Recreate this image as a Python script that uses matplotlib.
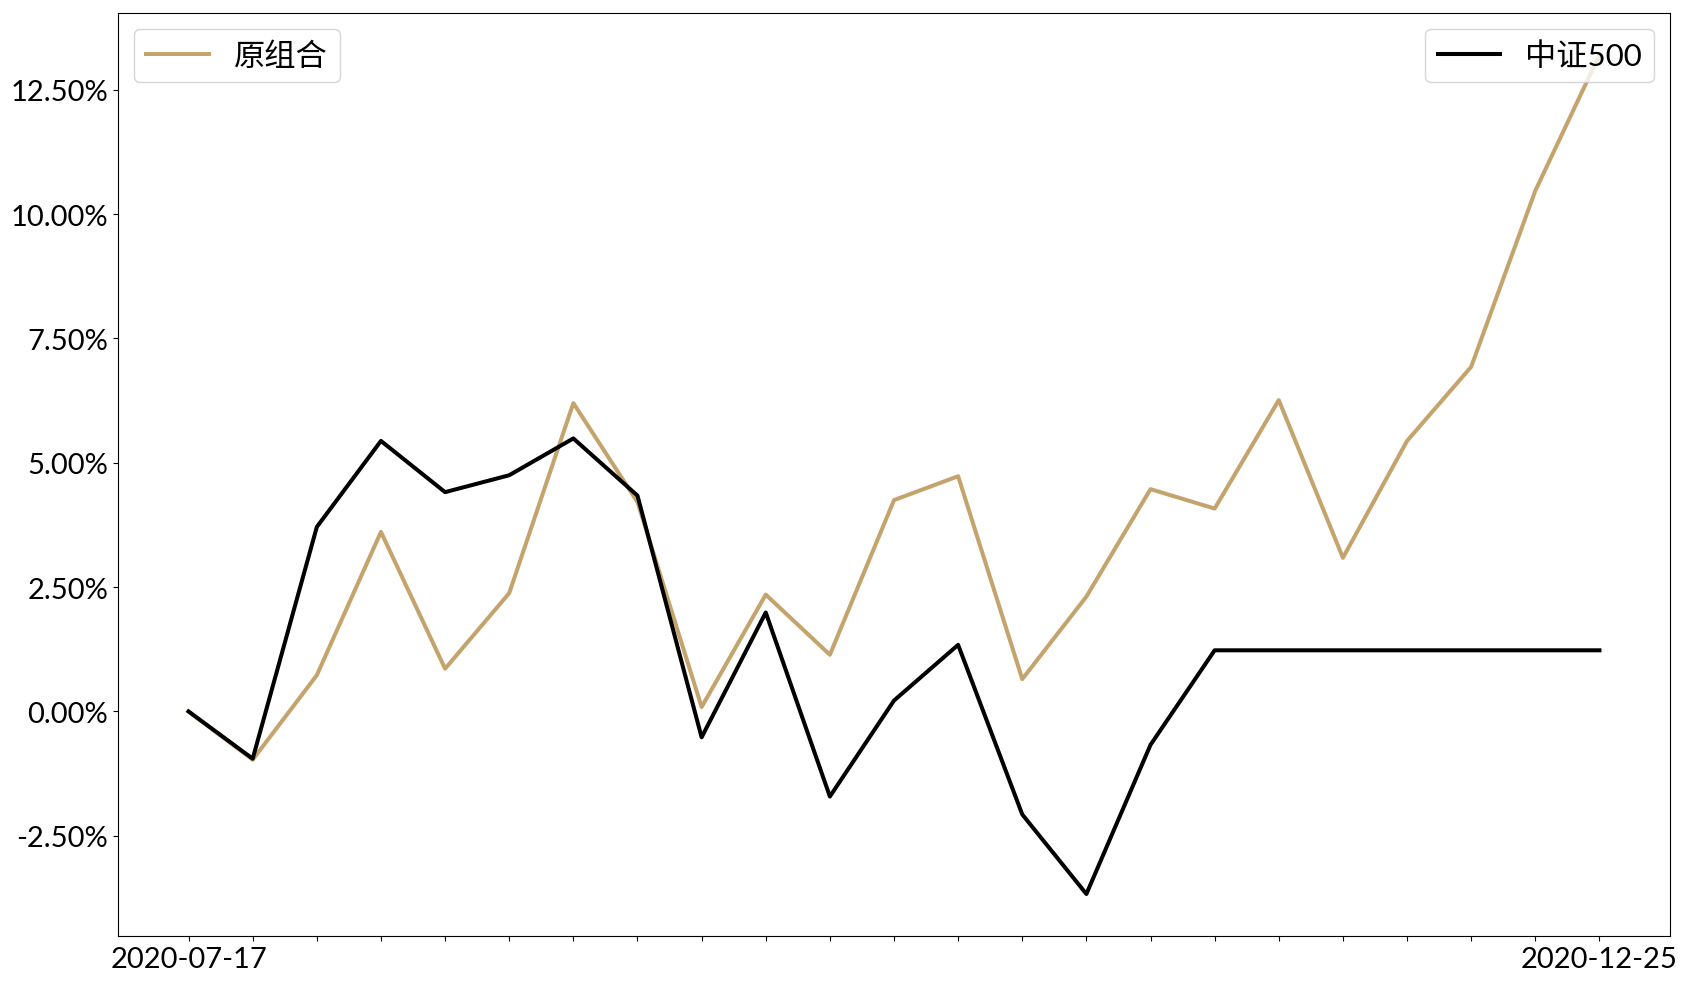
import matplotlib
matplotlib.use("Agg")
import matplotlib.pyplot as plt
from matplotlib.ticker import FuncFormatter

plt.rcParams['font.family'] = ['Lato', 'Noto Sans CJK SC', 'DejaVu Sans']

# weekly dates (2020-10-02 holiday week missing)
dates = ["2020-07-17", "2020-07-24", "2020-07-31", "2020-08-07", "2020-08-14",
         "2020-08-21", "2020-08-28", "2020-09-04", "2020-09-11", "2020-09-18",
         "2020-09-25", "2020-10-09", "2020-10-16", "2020-10-23", "2020-10-30",
         "2020-11-06", "2020-11-13", "2020-11-20", "2020-11-27", "2020-12-04",
         "2020-12-11", "2020-12-18", "2020-12-25"]

# cumulative returns, %
portfolio = [0.00, -0.97, 0.73, 3.61, 0.86, 2.38, 6.20, 4.21, 0.09, 2.35,
             1.14, 4.25, 4.73, 0.65, 2.31, 4.47, 4.08, 6.26, 3.09, 5.44,
             6.93, 10.47, 13.20]
csi500 = [0.00, -0.95, 3.71, 5.44, 4.41, 4.75, 5.49, 4.34, -0.52, 1.99,
          -1.71, 0.22, 1.34, -2.07, -3.67, -0.67, 1.23, 1.23, 1.23, 1.23,
          1.23, 1.23, 1.23]

fig, ax = plt.subplots(figsize=(16.86, 9.87), dpi=100)
fig.subplots_adjust(left=0.070, right=0.9905, top=0.9858, bottom=0.0507)

x = list(range(len(dates)))
l1, = ax.plot(x, portfolio, color="#c4a46c", lw=2.9, label="原组合")
l2, = ax.plot(x, csi500, color="black", lw=2.9, label="中证500")

ax.set_xticks(x)
ax.set_xticklabels([d if i in (0, len(dates) - 1) else "" for i, d in enumerate(dates)])
ax.yaxis.set_major_formatter(FuncFormatter(lambda v, p: f"{v:.2f}%"))
ax.set_yticks([-2.5, 0, 2.5, 5, 7.5, 10, 12.5])
ax.tick_params(labelsize=21)

leg1 = ax.legend(handles=[l1], loc="upper left", fontsize=22.5)
ax.add_artist(leg1)
ax.legend(handles=[l2], loc="upper right", fontsize=22.5)

fig.savefig("out.png")
